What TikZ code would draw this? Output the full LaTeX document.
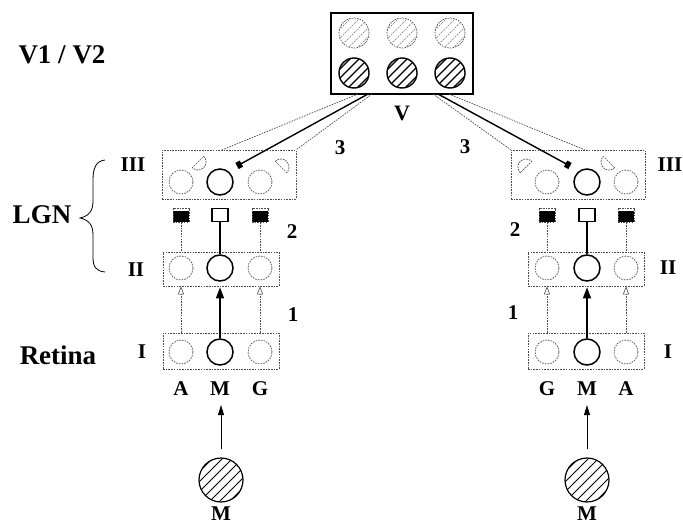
\documentclass[tikz,border=0pt]{standalone}
\usepackage{fontspec}
\setmainfont{Liberation Serif}
\usetikzlibrary{arrows.meta}

% hatched disc: x, y, radius, stripe offset, stripe style
\newcommand\hatchdisc[5]{%
  \begin{scope}[shift={(#1,#2)}]
    \clip (0,0) circle[radius=#3];
    \foreach \k in {-4,...,4}
      \draw[#5] (\k*#4-#3-3, #3+3) -- ++(2*#3+6,-2*#3-6);
  \end{scope}}

\tikzset{
  faint/.style={draw=black!70, line width=0.7pt, dash pattern=on 1.6pt off 1.1pt},
  firm/.style={draw=black, line width=1.5pt},
  cellfaint/.style={circle, faint, minimum size=24pt, inner sep=0pt},
  cellfirm/.style={circle, firm, minimum size=26pt, inner sep=0pt},
  layerbox/.style={rectangle, faint, inner sep=0pt},
  relayoff/.style={rectangle, faint, minimum width=16pt, minimum height=14pt, inner sep=0pt,
    path picture={\fill[black] (path picture bounding box.south west) rectangle ([yshift=-3pt]path picture bounding box.north east);}},
  relayon/.style={rectangle, draw=black, line width=1.3pt, fill=white, minimum width=16pt, minimum height=13pt, inner sep=0pt},
  lbl/.style={font=\bfseries\fontsize{21}{21}\selectfont, inner sep=0pt},
  biglbl/.style={font=\bfseries\fontsize{27}{27}\selectfont, inner sep=0pt},
  weakarrow/.style={faint, -{Triangle[open, length=8pt, width=6pt, line width=0.6pt]}},
  strongarrow/.style={firm, -{Triangle[length=11pt, width=8pt]}},
  feedarrow/.style={draw=black, line width=0.9pt, -{Triangle[length=10pt, width=6pt]}},
  topdown/.style={draw=black, line width=1.4pt, -{Rectangle[length=5pt, width=7pt]}},
  terminal/.style={faint}
}

\begin{document}
\begin{tikzpicture}[x=1pt,y=-1pt]
\useasboundingbox (0,0) rectangle (683,525);

% ---------- cortex V1/V2 ----------
\node[rectangle, draw=black, line width=1.2pt, minimum width=142pt, minimum height=81pt, inner sep=0pt] (V) at (402,53.5) {};
\foreach \x/\n in {354/a,402/b,450/c}{
  \hatchdisc{\x}{33}{15}{9}{draw=black!55, line width=0.6pt, dash pattern=on 1.5pt off 1pt}
  \node[circle, faint, minimum size=30pt, inner sep=0pt] (Vt\n) at (\x,33) {};
  \hatchdisc{\x}{73}{15}{9}{draw=black, line width=1.2pt}
  \node[circle, firm, line width=1.4pt, minimum size=30pt, inner sep=0pt] (Vb\n) at (\x,73) {};
}
\node[lbl, font=\bfseries\fontsize{22}{22}\selectfont] (Vlbl) at (402,113) {V};
\node[biglbl] (V12) at (62,55) {V1 / V2};

% ---------- left eye pathway ----------
\node[layerbox, minimum width=134pt, minimum height=49pt] (L3) at (229,174.5) {};
\node[layerbox, minimum width=116pt, minimum height=34pt] (L2) at (221,269) {};
\node[layerbox, minimum width=116pt, minimum height=36pt] (L1) at (221,351) {};

\node[cellfaint] (L3a) at (181,182) {};
\node[cellfirm]  (L3m) at (220,182) {};
\node[cellfaint] (L3g) at (260,182) {};
\node[cellfaint] (L2a) at (181,268) {};
\node[cellfirm]  (L2m) at (220,268) {};
\node[cellfaint] (L2g) at (260,268) {};
\node[cellfaint] (L1a) at (181,352) {};
\node[cellfirm]  (L1m) at (220,352) {};
\node[cellfaint] (L1g) at (260,352) {};

% synaptic terminals in layer III
\draw[terminal] (198,162) ++(-45:8) arc[start angle=-45, end angle=135, radius=8] -- cycle;
\draw[terminal] (281,167) ++(-135:8) arc[start angle=-135, end angle=45, radius=8] -- cycle;

\node[relayoff] (LsA) at (181,215) {};
\node[relayon]  (LsM) at (220,215) {};
\node[relayoff] (LsG) at (260,215) {};

\draw[faint] (LsA.south) -- (LsA.south |- L2.north);
\draw[faint] (LsG.south) -- (LsG.south |- L2.north);
\draw[firm, line width=1.3pt] (LsM.south) -- (L2m.north);

\draw[weakarrow] (L1a |- L1.north) -- (L1a |- L2.south);
\draw[weakarrow] (L1g |- L1.north) -- (L1g |- L2.south);
\draw[strongarrow] (L1m.north) -- ([yshift=-1pt]L1m |- L2.south);

\node[lbl] (LA) at (181,389) {A};
\node[lbl] (LM) at (220,389) {M};
\node[lbl] (LG) at (260,389) {G};

\hatchdisc{221}{480}{22}{10}{draw=black, line width=1pt}
\node[circle, draw=black, line width=1.2pt, minimum size=44pt, inner sep=0pt] (Lin) at (221,480) {};
\node[lbl] (Linlbl) at (221,514) {M};
\draw[feedarrow, shorten <=8pt, shorten >=9pt] (Lin.north) -- (Lin.north |- LM.south);

% ---------- right eye pathway ----------
\node[layerbox, minimum width=134pt, minimum height=49pt] (R3) at (578,174.5) {};
\node[layerbox, minimum width=116pt, minimum height=34pt] (R2) at (586,269) {};
\node[layerbox, minimum width=116pt, minimum height=36pt] (R1) at (586,351) {};

\node[cellfaint] (R3g) at (547,182) {};
\node[cellfirm]  (R3m) at (587,182) {};
\node[cellfaint] (R3a) at (626,182) {};
\node[cellfaint] (R2g) at (547,268) {};
\node[cellfirm]  (R2m) at (587,268) {};
\node[cellfaint] (R2a) at (626,268) {};
\node[cellfaint] (R1g) at (547,352) {};
\node[cellfirm]  (R1m) at (587,352) {};
\node[cellfaint] (R1a) at (626,352) {};

\draw[terminal] (526,167) ++(135:8) arc[start angle=135, end angle=315, radius=8] -- cycle;
\draw[terminal] (609,162) ++(45:8) arc[start angle=45, end angle=225, radius=8] -- cycle;

\node[relayoff] (RsG) at (547,215) {};
\node[relayon]  (RsM) at (587,215) {};
\node[relayoff] (RsA) at (626,215) {};

\draw[faint] (RsG.south) -- (RsG.south |- R2.north);
\draw[faint] (RsA.south) -- (RsA.south |- R2.north);
\draw[firm, line width=1.3pt] (RsM.south) -- (R2m.north);

\draw[weakarrow] (R1g |- R1.north) -- (R1g |- R2.south);
\draw[weakarrow] (R1a |- R1.north) -- (R1a |- R2.south);
\draw[strongarrow] (R1m.north) -- ([yshift=-1pt]R1m |- R2.south);

\node[lbl] (RG) at (547,389) {G};
\node[lbl] (RM) at (587,389) {M};
\node[lbl] (RA) at (626,389) {A};

\hatchdisc{587}{480}{22}{10}{draw=black, line width=1pt}
\node[circle, draw=black, line width=1.2pt, minimum size=44pt, inner sep=0pt] (Rin) at (587,480) {};
\node[lbl] (Rinlbl) at (587,514) {M};
\draw[feedarrow, shorten <=8pt, shorten >=9pt] (Rin.north) -- (Rin.north |- RM.south);

% ---------- cortical feedback to LGN layer III ----------
\coordinate (VoL1) at (358,94);
\coordinate (VoL2) at (372,94);
\coordinate (VoL3) at (368,94);
\coordinate (VoR1) at (449,94);
\coordinate (VoR2) at (433,94);
\coordinate (VoR3) at (438,94);
\coordinate (LtipFar) at (222,150);
\coordinate (LtipM) at (237,166);
\coordinate (RtipFar) at (585,150);
\coordinate (RtipM) at (570,166);

\draw[faint] (VoL1) -- (LtipFar);
\draw[faint] (VoL2) -- (L3.north east);
\draw[topdown] (VoL3) -- (LtipM);
\draw[faint] (VoR1) -- (RtipFar);
\draw[faint] (VoR2) -- (R3.north west);
\draw[topdown] (VoR3) -- (RtipM);

% ---------- layer labels ----------
\node[lbl] (L3lbl) at (133,165) {III};
\node[lbl] (L2lbl) at (136,270) {II};
\node[lbl] (L1lbl) at (142,352) {I};
\node[lbl] (R3lbl) at (670,165) {III};
\node[lbl] (R2lbl) at (668,268) {II};
\node[lbl] (R1lbl) at (668,352) {I};

\node[lbl] (n1L) at (293,315) {1};
\node[lbl] (n1R) at (513,313) {1};
\node[lbl] (n2L) at (292,232) {2};
\node[lbl] (n2R) at (515,230) {2};
\node[lbl] (n3L) at (340,148) {3};
\node[lbl] (n3R) at (465,147) {3};

\node[biglbl] (LGN) at (42,215) {LGN};
\node[biglbl] (Ret) at (58,355) {Retina};

% brace spanning LGN layers II and III
\draw[line width=0.8pt] (105,160) .. controls (96,161) and (93,168) .. (93,180)
  -- (93,201) .. controls (93,211) and (89,216) .. (80,218)
  .. controls (89,220) and (93,225) .. (93,235)
  -- (93,257) .. controls (93,267) and (96,271) .. (105,272);
\end{tikzpicture}
\end{document}
